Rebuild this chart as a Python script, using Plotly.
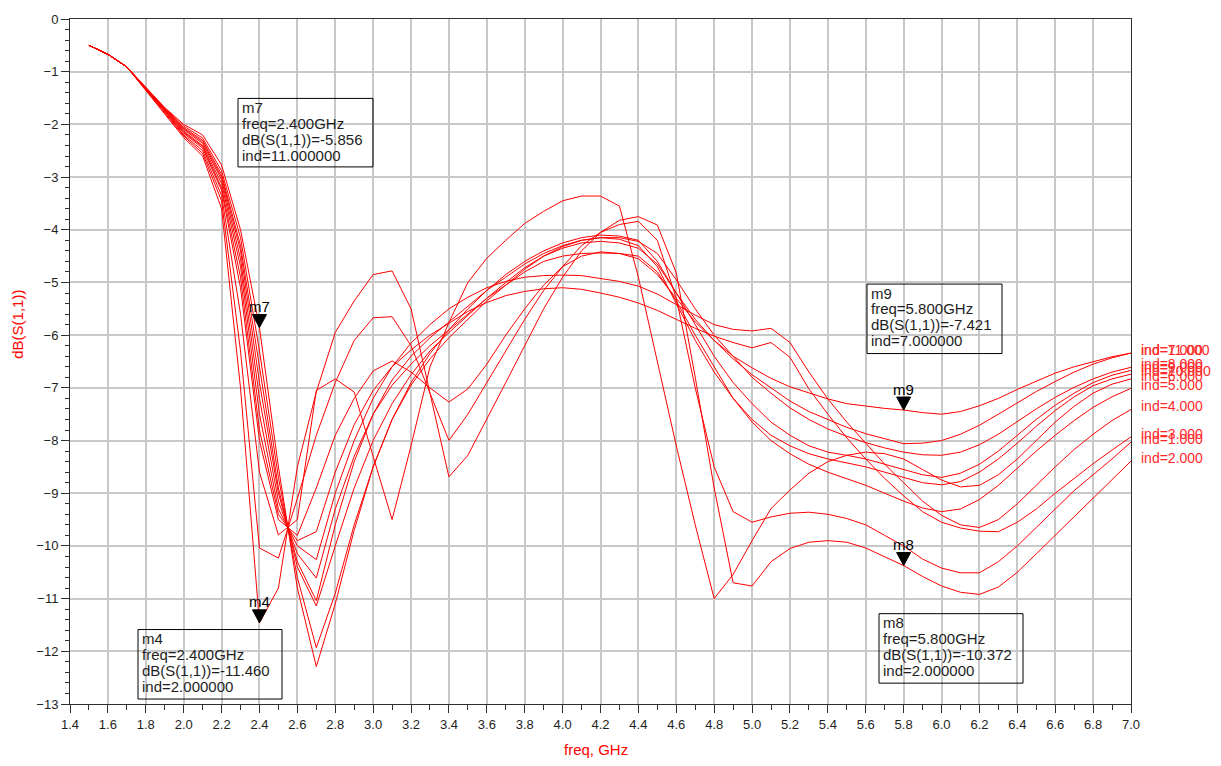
import plotly.graph_objects as go

# Frequency sweep points (GHz)
FREQ_GHZ = [1.5, 1.6, 1.7, 1.8, 1.9, 2.0, 2.1, 2.2, 2.3, 2.4,
            2.5, 2.6, 2.7, 2.8, 2.9, 3.0, 3.1, 3.2, 3.3, 3.4,
            3.5, 3.6, 3.7, 3.8, 3.9, 4.0, 4.1, 4.2, 4.3, 4.4,
            4.5, 4.6, 4.7, 4.8, 4.9, 5.0, 5.1, 5.2, 5.3, 5.4,
            5.5, 5.6, 5.7, 5.8, 5.9, 6.0, 6.1, 6.2, 6.3, 6.4,
            6.5, 6.6, 6.7, 6.8, 6.9, 7.0]

# dB(S(1,1)) for each sweep index
DB_S11_IND1 = [-0.50, -0.67, -0.91, -1.34, -1.78, -2.22, -2.55, -3.45, -6.30, -10.04,
               -10.23, -9.10, -7.90, -6.90, -6.10, -5.67, -5.65, -6.20, -7.10, -8.00,
               -7.50, -6.90, -6.30, -5.70, -5.15, -4.70, -4.30, -4.05, -3.90, -3.84,
               -4.20, -5.30, -7.00, -8.50, -9.35, -9.55, -9.45, -9.38, -9.36, -9.40,
               -9.48, -9.60, -9.80, -10.00, -10.25, -10.42, -10.51, -10.51, -10.30, -10.00,
               -9.65, -9.30, -8.95, -8.65, -8.35, -8.03]
DB_S11_IND2 = [-0.50, -0.67, -0.91, -1.35, -1.80, -2.25, -2.60, -3.60, -7.00, -11.460,
               -10.80, -8.50, -7.08, -5.95, -5.35, -4.85, -4.78, -5.50, -7.10, -8.69,
               -8.28, -7.60, -6.90, -6.20, -5.50, -4.90, -4.40, -4.05, -3.82, -3.75,
               -3.91, -4.82, -6.80, -8.90, -10.70, -10.76, -10.30, -10.05, -9.93, -9.90,
               -9.93, -10.04, -10.20, -10.372, -10.58, -10.76, -10.88, -10.92, -10.78, -10.50,
               -10.15, -9.80, -9.43, -9.08, -8.73, -8.39]
DB_S11_IND3 = [-0.50, -0.67, -0.91, -1.32, -1.74, -2.15, -2.42, -3.20, -4.90, -7.80,
               -9.40, -9.90, -9.73, -8.60, -7.70, -7.05, -6.60, -6.28, -6.00, -5.78,
               -5.55, -5.38, -5.25, -5.17, -5.12, -5.10, -5.13, -5.20, -5.28, -5.39,
               -5.53, -5.70, -5.87, -6.02, -6.14, -6.24, -6.14, -6.42, -7.02, -7.50,
               -7.95, -8.35, -8.72, -9.05, -9.35, -9.55, -9.66, -9.72, -9.73, -9.55,
               -9.30, -9.00, -8.72, -8.44, -8.18, -7.93]
DB_S11_IND4 = [-0.50, -0.67, -0.91, -1.32, -1.73, -2.13, -2.40, -3.12, -4.70, -7.50,
               -9.30, -10.00, -10.26, -9.00, -8.00, -7.20, -6.60, -6.15, -5.80, -5.50,
               -5.28, -5.10, -4.98, -4.90, -4.87, -4.86, -4.87, -4.92, -4.98, -5.07,
               -5.22, -5.42, -5.62, -5.80, -5.89, -5.92, -5.87, -6.14, -6.70, -7.21,
               -7.65, -8.05, -8.45, -8.80, -9.15, -9.42, -9.60, -9.65, -9.50, -9.20,
               -8.85, -8.50, -8.17, -7.88, -7.62, -7.41]
DB_S11_IND5 = [-0.50, -0.67, -0.91, -1.32, -1.72, -2.10, -2.36, -3.05, -4.55, -7.20,
               -9.15, -10.15, -10.61, -9.30, -8.30, -7.50, -6.95, -6.55, -6.20, -5.90,
               -5.60, -5.30, -5.05, -4.80, -4.60, -4.50, -4.45, -4.44, -4.45, -4.50,
               -4.80, -5.35, -6.00, -6.60, -7.20, -7.65, -8.00, -8.25, -8.45, -8.60,
               -8.72, -8.85, -9.00, -9.15, -9.28, -9.35, -9.30, -9.12, -8.85, -8.53,
               -8.20, -7.90, -7.62, -7.37, -7.17, -7.01]
DB_S11_IND6 = [-0.50, -0.67, -0.91, -1.33, -1.76, -2.20, -2.50, -3.35, -5.60, -8.60,
               -9.79, -9.50, -7.05, -6.83, -7.08, -8.30, -9.50, -8.10, -6.60, -5.76,
               -5.00, -4.54, -4.20, -3.88, -3.65, -3.45, -3.36, -3.36, -3.55, -4.90,
               -6.50, -8.10, -9.60, -11.00, -10.54, -9.90, -9.29, -8.94, -8.62, -8.40,
               -8.28, -8.22, -8.25, -8.35, -8.55, -8.75, -8.88, -8.85, -8.65, -8.35,
               -8.00, -7.65, -7.35, -7.10, -6.93, -6.83]
DB_S11_IND7 = [-0.50, -0.67, -0.91, -1.32, -1.75, -2.17, -2.45, -3.25, -5.10, -8.00,
               -9.50, -9.80, -8.90, -7.90, -7.20, -6.68, -6.49, -6.70, -7.00, -7.27,
               -7.02, -6.55, -6.00, -5.50, -5.05, -4.70, -4.50, -4.42, -4.45, -4.55,
               -4.85, -5.30, -5.75, -6.10, -6.40, -6.62, -6.82, -6.98, -7.10, -7.21,
               -7.30, -7.35, -7.39, -7.421, -7.47, -7.50, -7.45, -7.34, -7.20, -7.03,
               -6.87, -6.72, -6.60, -6.50, -6.41, -6.34]
DB_S11_IND8 = [-0.50, -0.67, -0.91, -1.31, -1.71, -2.08, -2.33, -3.00, -4.40, -6.90,
               -9.00, -10.30, -11.04, -9.60, -8.40, -7.50, -6.85, -6.40, -6.05, -5.75,
               -5.45, -5.15, -4.90, -4.65, -4.45, -4.30, -4.20, -4.15, -4.15, -4.22,
               -4.45, -4.95, -5.50, -6.00, -6.40, -6.80, -7.10, -7.38, -7.60, -7.78,
               -7.92, -8.04, -8.14, -8.22, -8.27, -8.28, -8.22, -8.08, -7.88, -7.64,
               -7.40, -7.18, -6.99, -6.83, -6.70, -6.61]
DB_S11_IND9 = [-0.50, -0.67, -0.91, -1.31, -1.70, -2.06, -2.30, -2.95, -4.30, -6.60,
               -8.90, -10.40, -11.14, -10.00, -8.90, -8.00, -7.30, -6.75, -6.30, -5.95,
               -5.62, -5.30, -5.00, -4.72, -4.50, -4.35, -4.25, -4.22, -4.25, -4.35,
               -4.65, -5.20, -5.80, -6.40, -6.90, -7.30, -7.65, -7.90, -8.10, -8.22,
               -8.28, -8.35, -8.45, -8.55, -8.65, -8.70, -8.62, -8.45, -8.20, -7.90,
               -7.60, -7.33, -7.10, -6.90, -6.76, -6.67]
DB_S11_IND10 = [-0.50, -0.67, -0.91, -1.31, -1.69, -2.03, -2.26, -2.88, -4.15, -6.30,
                -8.70, -10.60, -11.93, -10.90, -9.60, -8.50, -7.60, -6.95, -6.45, -6.05,
                -5.70, -5.35, -5.05, -4.75, -4.50, -4.32, -4.20, -4.15, -4.18, -4.30,
                -4.70, -5.40, -6.10, -6.70, -7.20, -7.60, -7.90, -8.10, -8.25, -8.35,
                -8.42, -8.50, -8.60, -8.70, -8.80, -8.84, -8.78, -8.60, -8.35, -8.05,
                -7.73, -7.43, -7.17, -6.96, -6.83, -6.74]
DB_S11_IND11 = [-0.50, -0.67, -0.91, -1.30, -1.68, -2.00, -2.20, -2.77, -4.00, -5.856,
                -8.50, -10.80, -12.29, -11.10, -9.70, -8.50, -7.60, -6.90, -6.35, -5.90,
                -5.50, -5.15, -4.85, -4.60, -4.40, -4.25, -4.15, -4.10, -4.12, -4.20,
                -4.60, -5.20, -5.70, -6.10, -6.45, -6.75, -7.00, -7.25, -7.45, -7.60,
                -7.75, -7.87, -7.97, -8.06, -8.05, -8.00, -7.88, -7.71, -7.50, -7.28,
                -7.07, -6.88, -6.70, -6.55, -6.43, -6.34]

SWEEP_IND = [1, 2, 3, 4, 5, 6, 7, 8, 9, 10, 11]
SWEEP_DB = [DB_S11_IND1, DB_S11_IND2, DB_S11_IND3, DB_S11_IND4, DB_S11_IND5,
            DB_S11_IND6, DB_S11_IND7, DB_S11_IND8, DB_S11_IND9, DB_S11_IND10,
            DB_S11_IND11]

# Markers: name, sweep index, frequency (GHz)
MARKER_NAMES = ["m7", "m4", "m9", "m8"]
MARKER_IND = [11, 2, 7, 2]
MARKER_FREQ = [2.4, 2.4, 5.8, 5.8]

# ---------------------------------------------------------------- layout
W, H = 1221, 766
ML, MR, MT, MB = 70, 90, 14, 62
PW, PH = W - ML - MR, H - MT - MB

RED = "#ff0000"
GRID = "#c8c8c8"
AXIS = "#303030"
TXT = "#1e1e1e"
FONT = "Liberation Sans, Arial, sans-serif"

# readout box pixel rectangles (left, top, right, bottom), one per marker
BOX_PX = {"m7": (238, 94, 373, 163), "m4": (138, 629, 282, 699),
          "m9": (867, 281, 1002, 351), "m8": (879, 613, 1023, 683)}


def px_to_paper_x(px):
    return (px - ML) / PW


def px_to_paper_y(py):
    return 1 - (py - MT) / PH


fig = go.Figure()

for ind, db in zip(SWEEP_IND, SWEEP_DB):
    fig.add_trace(go.Scatter(x=FREQ_GHZ, y=db, mode="lines",
                             line=dict(color=RED, width=1),
                             name=f"ind={ind}", hoverinfo="skip",
                             showlegend=False))

annotations = []
shapes = []

# end-of-trace sweep labels on the right (traces ending at the same level
# print on top of each other, as the simulator does)
for ind, db in zip(SWEEP_IND, SWEEP_DB):
    annotations.append(dict(x=FREQ_GHZ[-1], y=db[-1], xref="x", yref="y",
                            text=f"ind={ind}.000", showarrow=False,
                            xanchor="left", yanchor="middle", xshift=8, yshift=3,
                            font=dict(family=FONT, size=14, color="#ff2a2a")))

# markers with readout boxes
for name, ind, f in zip(MARKER_NAMES, MARKER_IND, MARKER_FREQ):
    k = FREQ_GHZ.index(f)
    val = SWEEP_DB[SWEEP_IND.index(ind)][k]
    shapes.append(dict(type="path", xref="x", yref="y",
                       xsizemode="pixel", ysizemode="pixel",
                       xanchor=f, yanchor=val,
                       path="M -7 13 L 7 13 L 0 0 Z",
                       fillcolor="black", line=dict(color="black", width=1)))
    annotations.append(dict(x=f, y=val, xref="x", yref="y", text=name,
                            showarrow=False, xanchor="center", yanchor="middle",
                            yshift=21, font=dict(family=FONT, size=15, color="black")))
    x0, y0, x1, y1 = BOX_PX[name]
    shapes.append(dict(type="rect", xref="paper", yref="paper",
                       x0=px_to_paper_x(x0), x1=px_to_paper_x(x1),
                       y0=px_to_paper_y(y1), y1=px_to_paper_y(y0),
                       line=dict(color="black", width=1), fillcolor="rgba(0,0,0,0)"))
    lines = [name, f"freq={f:.3f}GHz", f"dB(S(1,1))={val:.3f}", f"ind={ind}.000000"]
    for j, t in enumerate(lines):
        annotations.append(dict(x=px_to_paper_x(x0 + 2), y=px_to_paper_y(y0 + 9 + 16 * j),
                                xref="paper", yref="paper", text=t, showarrow=False,
                                xanchor="left", yanchor="middle",
                                font=dict(family=FONT, size=15, color=TXT)))

# axis titles
annotations.append(dict(x=px_to_paper_x(596), y=px_to_paper_y(750), xref="paper", yref="paper",
                        text="freq, GHz", showarrow=False, xanchor="center", yanchor="middle",
                        font=dict(family=FONT, size=15, color=RED)))
annotations.append(dict(x=px_to_paper_x(18), y=px_to_paper_y(322), xref="paper", yref="paper",
                        text="dB(S(1,1))", showarrow=False, textangle=-90,
                        xanchor="center", yanchor="middle",
                        font=dict(family=FONT, size=15, color=RED)))

fig.update_layout(
    width=W, height=H, autosize=False,
    margin=dict(l=ML, r=MR, t=MT, b=MB, pad=0),
    paper_bgcolor="white", plot_bgcolor="white",
    showlegend=False,
    font=dict(family=FONT, size=13, color=TXT),
    annotations=annotations, shapes=shapes,
)

fig.update_xaxes(range=[1.4, 7.0], tick0=1.4, dtick=0.2, tickformat=".1f",
                 showgrid=True, gridcolor=GRID, gridwidth=1.5,
                 showline=True, linecolor=AXIS, linewidth=1, mirror=True,
                 ticks="outside", ticklen=8, tickcolor=AXIS, tickwidth=1,
                 minor=dict(dtick=0.1, ticks="outside", ticklen=5,
                            tickcolor=AXIS, showgrid=False),
                 zeroline=False, tickfont=dict(family=FONT, size=13, color=TXT))
fig.update_yaxes(range=[-13, 0], tick0=0, dtick=1,
                 showgrid=True, gridcolor=GRID, gridwidth=1.5,
                 showline=True, linecolor=AXIS, linewidth=1, mirror=True,
                 ticks="outside", ticklen=8, tickcolor=AXIS, tickwidth=1,
                 minor=dict(dtick=0.2, ticks="outside", ticklen=4,
                            tickcolor=AXIS, showgrid=False),
                 zeroline=False, tickfont=dict(family=FONT, size=13, color=TXT))

fig.write_html("out.html")
